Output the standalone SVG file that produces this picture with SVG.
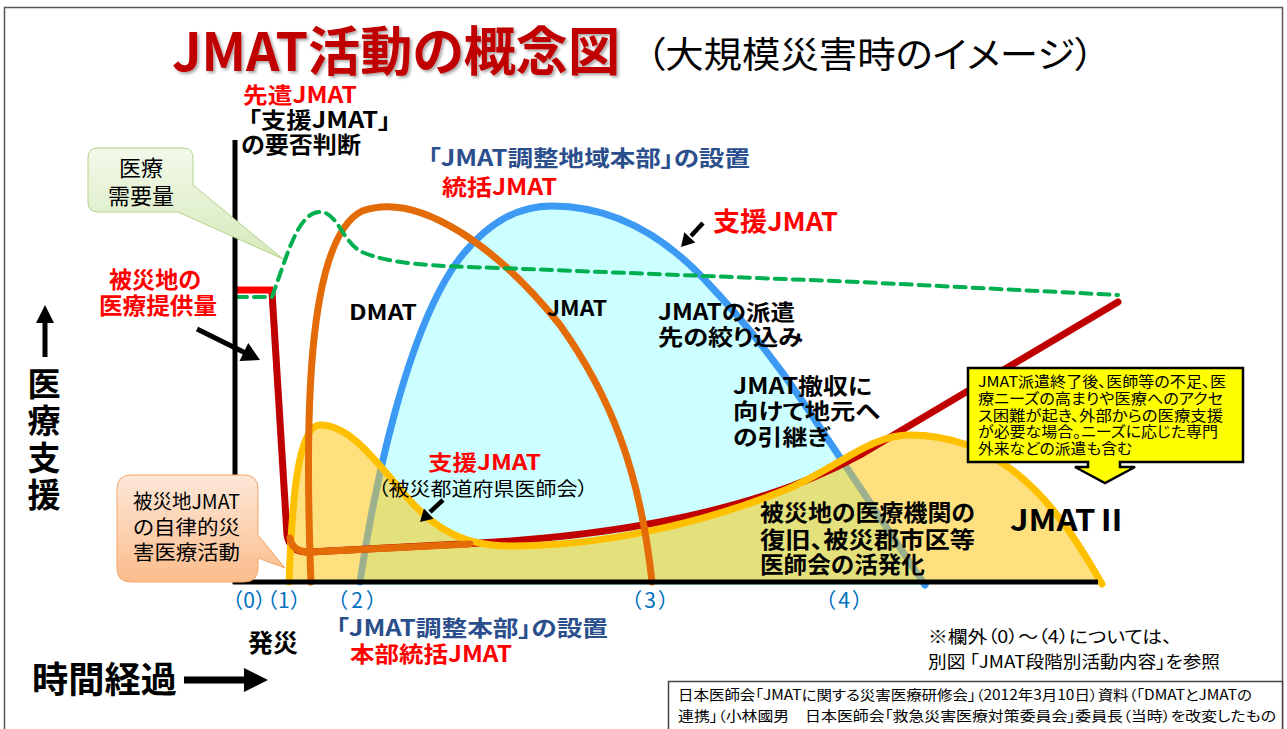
<svg xmlns="http://www.w3.org/2000/svg" width="1287" height="729" viewBox="0 0 1287 729">
<style>
text{font-family:"Noto Sans CJK JP","Noto Sans CJK SC","Liberation Sans",sans-serif;font-feature-settings:"palt" 1}
.b{font-weight:700}
.k{fill:#000}
.red{fill:#FF0000}
.blu{fill:#2B4F8C}
.stg{fill:#0070C0;font-size:21px}
.curve{fill:none;stroke-linecap:round;stroke-linejoin:round}
</style>
<defs>
<linearGradient id="gGreen" x1="0" y1="0" x2="0" y2="1">
<stop offset="0" stop-color="#F3F9EA"/><stop offset="1" stop-color="#D6E9BA"/>
</linearGradient>
<linearGradient id="gPeach" x1="0" y1="0" x2="0" y2="1">
<stop offset="0" stop-color="#FDE8D8"/><stop offset="1" stop-color="#FBBC8B"/>
</linearGradient>
<filter id="sh" x="-5%" y="-20%" width="110%" height="140%">
<feDropShadow dx="2" dy="2" stdDeviation="1.5" flood-color="#000" flood-opacity="0.35"/>
</filter>
<clipPath id="cYel"><path d="M289,582 C292,500 298,425 320,425 C350,425 375,460 405,495 C435,530 465,546 510,546 C600,546 700,525 790,488 C840,466 870,435 910,435 C960,435 1000,455 1035,490 C1065,520 1085,555 1102,584 L289,584 Z"/></clipPath>
</defs>

<rect x="4.5" y="7.5" width="1278" height="730" fill="#FFFFFF" stroke="#555" stroke-width="1.5"/>

<g id="title">
<text x="172" y="71" font-size="53" textLength="448" lengthAdjust="spacingAndGlyphs" class="b" fill="#C00000" filter="url(#sh)">JMAT活動の概念図</text>
<text x="646" y="68" font-size="36" textLength="448" lengthAdjust="spacingAndGlyphs" class="k">（大規模災害時のイメージ）</text>
</g>

<g id="connectors">
<path d="M360,582 C372,500 405,330 460,258 C490,220 520,206 552,206 C610,206 660,232 705,280 C745,322 775,360 805,405 C845,465 885,525 925,585 L360,585 Z" fill="#CCFFFF"/>
<path class="curve" d="M360,582 C372,500 405,330 460,258 C490,220 520,206 552,206 C610,206 660,232 705,280 C745,322 775,360 805,405 C845,465 885,525 925,585" stroke="#3C9AF5" stroke-width="7"/>
<path d="M289,582 C292,500 298,425 320,425 C350,425 375,460 405,495 C435,530 465,546 510,546 C600,546 700,525 790,488 C840,466 870,435 910,435 C960,435 1000,455 1035,490 C1065,520 1085,555 1102,584 L289,584 Z" fill="#FEE17E"/>
<path clip-path="url(#cYel)" d="M360,582 C372,500 405,330 460,258 C490,220 520,206 552,206 C610,206 660,232 705,280 C745,322 775,360 805,405 C845,465 885,525 925,585 L360,585 Z" fill="#E4E07C"/>
<path clip-path="url(#cYel)" class="curve" d="M360,582 C372,500 405,330 460,258 C490,220 520,206 552,206 C610,206 660,232 705,280 C745,322 775,360 805,405 C845,465 885,525 925,585" stroke="#9DB28C" stroke-width="7"/>
<path class="curve" d="M272,292 L287,535 Q290,553 310,552 L480,543 C620,535 760,510 860,455 L1118,302" stroke="#C00000" stroke-width="7"/>
<path class="curve" d="M289,582 C292,500 298,425 320,425 C350,425 375,460 405,495 C435,530 465,546 510,546 C600,546 700,525 790,488 C840,466 870,435 910,435 C960,435 1000,455 1035,490 C1065,520 1085,555 1102,584" stroke="#FFC000" stroke-width="7"/>
<path class="curve" d="M311,582 C305,430 305,240 362,211 C420,190 500,250 560,325 C610,395 640,470 652,582" stroke="#E36C09" stroke-width="7"/>
<path class="curve" d="M290,538 Q292,552 310,552 L470,544" stroke="#E36C09" stroke-width="7"/>
<path d="M236,290 H273" stroke="#FF0000" stroke-width="7" fill="none"/>
<path class="curve" d="M236,297 L272,297 L285,260 C295,232 305,212 320,212 C338,212 342,242 362,252 C390,264 430,266 500,268 L860,282 L1118,295" stroke="#00B050" stroke-width="4" stroke-dasharray="11 7" stroke-linecap="butt"/>
<path d="M235,140 V584" stroke="#000" stroke-width="5" fill="none"/>
<path d="M233,582 H1098" stroke="#000" stroke-width="5" fill="none"/>
<path d="M197,329 L245,352.7" stroke="#000" stroke-width="5"/>
<polygon points="260,360 239.5,361.1 248.3,343.1" fill="#000"/>
<path d="M703,223 L691,236" stroke="#000" stroke-width="4.5"/>
<polygon points="681,247 684.3,232.3 695.3,242.5" fill="#000"/>
<path d="M443,500 L430,512" stroke="#000" stroke-width="4.5"/>
<polygon points="420,522 423.9,508.6 433.5,518.8" fill="#000"/>
<path d="M45,322 V357" stroke="#000" stroke-width="5"/>
<polygon points="45,305 36,323 54,323" fill="#000"/>
<path d="M184,680 H246" stroke="#000" stroke-width="7"/>
<polygon points="244,668 268,680 244,692" fill="#000"/>
</g>

<g id="label-senken">
<text x="243" y="103" font-size="22" textLength="114" lengthAdjust="spacingAndGlyphs" class="b red">先遣JMAT</text>
<text x="248" y="128" font-size="22" textLength="143" lengthAdjust="spacingAndGlyphs" class="b k">「支援JMAT」</text>
<text x="241" y="153" font-size="23" textLength="120" lengthAdjust="spacingAndGlyphs" class="b k">の要否判断</text>
</g>

<g id="label-chiiki">
<text x="428" y="166" font-size="22" textLength="322" lengthAdjust="spacingAndGlyphs" class="b blu">「JMAT調整地域本部」の設置</text>
<text x="442" y="195" font-size="22" textLength="115" lengthAdjust="spacingAndGlyphs" class="b red">統括JMAT</text>
</g>

<g id="label-shien-top">
<text x="713" y="231" font-size="26" textLength="125" lengthAdjust="spacingAndGlyphs" class="b red">支援JMAT</text>
</g>

<g id="callout-demand">
<path d="M98,148 H183 Q193,148 193,158 V185 L283,259 L178,212 H98 Q88,212 88,202 V158 Q88,148 98,148 Z" fill="url(#gGreen)" stroke="#B3D38A" stroke-width="1"/>
<text x="141" y="176" font-size="22" text-anchor="middle" class="k">医療</text>
<text x="141" y="204" font-size="22" text-anchor="middle" class="k">需要量</text>
</g>

<g id="label-supply">
<text x="109" y="288" font-size="23" textLength="92" lengthAdjust="spacingAndGlyphs" class="b red">被災地の</text>
<text x="99" y="314" font-size="23" textLength="118" lengthAdjust="spacingAndGlyphs" class="b red">医療提供量</text>
</g>

<g id="axis-y-label">
<text x="44" y="396" font-size="33" text-anchor="middle" class="b k">医</text>
<text x="44" y="433" font-size="33" text-anchor="middle" class="b k">療</text>
<text x="44" y="470" font-size="33" text-anchor="middle" class="b k">支</text>
<text x="44" y="507" font-size="33" text-anchor="middle" class="b k">援</text>
</g>

<g id="callout-local">
<path d="M131,475 H244 Q258,475 258,489 V535 L285,568 L258,558 V568 Q258,582 244,582 H131 Q117,582 117,568 V489 Q117,475 131,475 Z" fill="url(#gPeach)" stroke="#F5A66A" stroke-width="1"/>
<text x="133" y="509" font-size="20" textLength="107" lengthAdjust="spacingAndGlyphs" class="k">被災地JMAT</text>
<text x="133" y="535" font-size="20" textLength="107" lengthAdjust="spacingAndGlyphs" class="k">の自律的災</text>
<text x="133" y="560" font-size="20" textLength="107" lengthAdjust="spacingAndGlyphs" class="k">害医療活動</text>
</g>

<g id="label-dmat">
<text x="349" y="320" font-size="21" textLength="68" lengthAdjust="spacingAndGlyphs" class="b k">DMAT</text>
</g>
<g id="label-jmat">
<text x="547" y="316" font-size="21" textLength="60" lengthAdjust="spacingAndGlyphs" class="b k">JMAT</text>
</g>
<g id="label-narrow">
<text x="658" y="320" font-size="22" textLength="137" lengthAdjust="spacingAndGlyphs" class="b k">JMATの派遣</text>
<text x="658" y="345" font-size="22" textLength="145" lengthAdjust="spacingAndGlyphs" class="b k">先の絞り込み</text>
</g>
<g id="label-withdraw">
<text x="733" y="394" font-size="22" textLength="139" lengthAdjust="spacingAndGlyphs" class="b k">JMAT撤収に</text>
<text x="733" y="419" font-size="22" textLength="147" lengthAdjust="spacingAndGlyphs" class="b k">向けて地元へ</text>
<text x="733" y="445" font-size="22" textLength="97" lengthAdjust="spacingAndGlyphs" class="b k">の引継ぎ</text>
</g>
<g id="label-shien-pref">
<text x="428" y="470" font-size="21" textLength="113" lengthAdjust="spacingAndGlyphs" class="b red">支援JMAT</text>
<text x="378" y="496" font-size="19" textLength="210" lengthAdjust="spacingAndGlyphs" class="k">（被災都道府県医師会）</text>
</g>
<g id="label-recovery">
<text x="760" y="521" font-size="23" textLength="215" lengthAdjust="spacingAndGlyphs" class="b k">被災地の医療機関の</text>
<text x="760" y="548" font-size="23" textLength="215" lengthAdjust="spacingAndGlyphs" class="b k">復旧、被災郡市区等</text>
<text x="760" y="573" font-size="23" textLength="165" lengthAdjust="spacingAndGlyphs" class="b k">医師会の活発化</text>
</g>
<g id="label-jmat2">
<text x="1010" y="531" font-size="30" textLength="118" lengthAdjust="spacingAndGlyphs" class="b k">JMATⅡ</text>
</g>

<g id="note-jmat2">
<path d="M968,368 H1243 V462 H1120 V467 H1135 L1105,483 L1075,467 H1088 V462 H968 Z" fill="#FFFF00" stroke="#000" stroke-width="2.5" stroke-linejoin="miter"/>
<text x="978" y="387" font-size="15" textLength="248" lengthAdjust="spacingAndGlyphs" class="k">JMAT派遣終了後、医師等の不足、医</text>
<text x="978" y="404" font-size="15" textLength="245" lengthAdjust="spacingAndGlyphs" class="k">療ニーズの高まりや医療へのアクセ</text>
<text x="978" y="421" font-size="15" textLength="245" lengthAdjust="spacingAndGlyphs" class="k">ス困難が起き、外部からの医療支援</text>
<text x="978" y="437" font-size="15" textLength="240" lengthAdjust="spacingAndGlyphs" class="k">が必要な場合。ニーズに応じた専門</text>
<text x="978" y="454" font-size="15" textLength="154" lengthAdjust="spacingAndGlyphs" class="k">外来などの派遣も含む</text>
</g>

<g id="stages">
<text x="232" y="608" textLength="69" lengthAdjust="spacing" class="stg">（0）（1）</text>
<text x="337" y="608" textLength="40" lengthAdjust="spacing" class="stg">（2）</text>
<text x="631" y="608" textLength="38" lengthAdjust="spacing" class="stg">（3）</text>
<text x="825" y="608" textLength="38" lengthAdjust="spacing" class="stg">（4）</text>
</g>

<g id="label-hassai">
<text x="248" y="652" font-size="25" textLength="50" lengthAdjust="spacingAndGlyphs" class="b k">発災</text>
</g>
<g id="label-honbu">
<text x="336" y="636" font-size="22" textLength="272" lengthAdjust="spacingAndGlyphs" class="b blu">「JMAT調整本部」の設置</text>
<text x="350" y="662" font-size="22" textLength="162" lengthAdjust="spacingAndGlyphs" class="b red">本部統括JMAT</text>
</g>
<g id="axis-x-label">
<text x="32" y="693" font-size="36" textLength="145" lengthAdjust="spacingAndGlyphs" class="b k">時間経過</text>
</g>
<g id="note-ref">
<text x="928" y="643" font-size="17" textLength="244" lengthAdjust="spacingAndGlyphs" class="k">※欄外（0）～（4）については、</text>
<text x="928" y="668" font-size="17" textLength="292" lengthAdjust="spacingAndGlyphs" class="k">別図 「JMAT段階別活動内容」を参照</text>
</g>
<g id="citation">
<rect x="668.5" y="681.5" width="614" height="60" fill="#FFFFFF" stroke="#444" stroke-width="1.5"/>
<text x="678" y="700" font-size="14" textLength="574" lengthAdjust="spacingAndGlyphs" class="k">日本医師会「JMATに関する災害医療研修会」（2012年3月10日）資料（「DMATとJMATの</text>
<text x="678" y="721" font-size="14" textLength="598" lengthAdjust="spacingAndGlyphs" class="k">連携」（小林國男　日本医師会「救急災害医療対策委員会」委員長（当時）を改変したもの</text>
</g>
</svg>
